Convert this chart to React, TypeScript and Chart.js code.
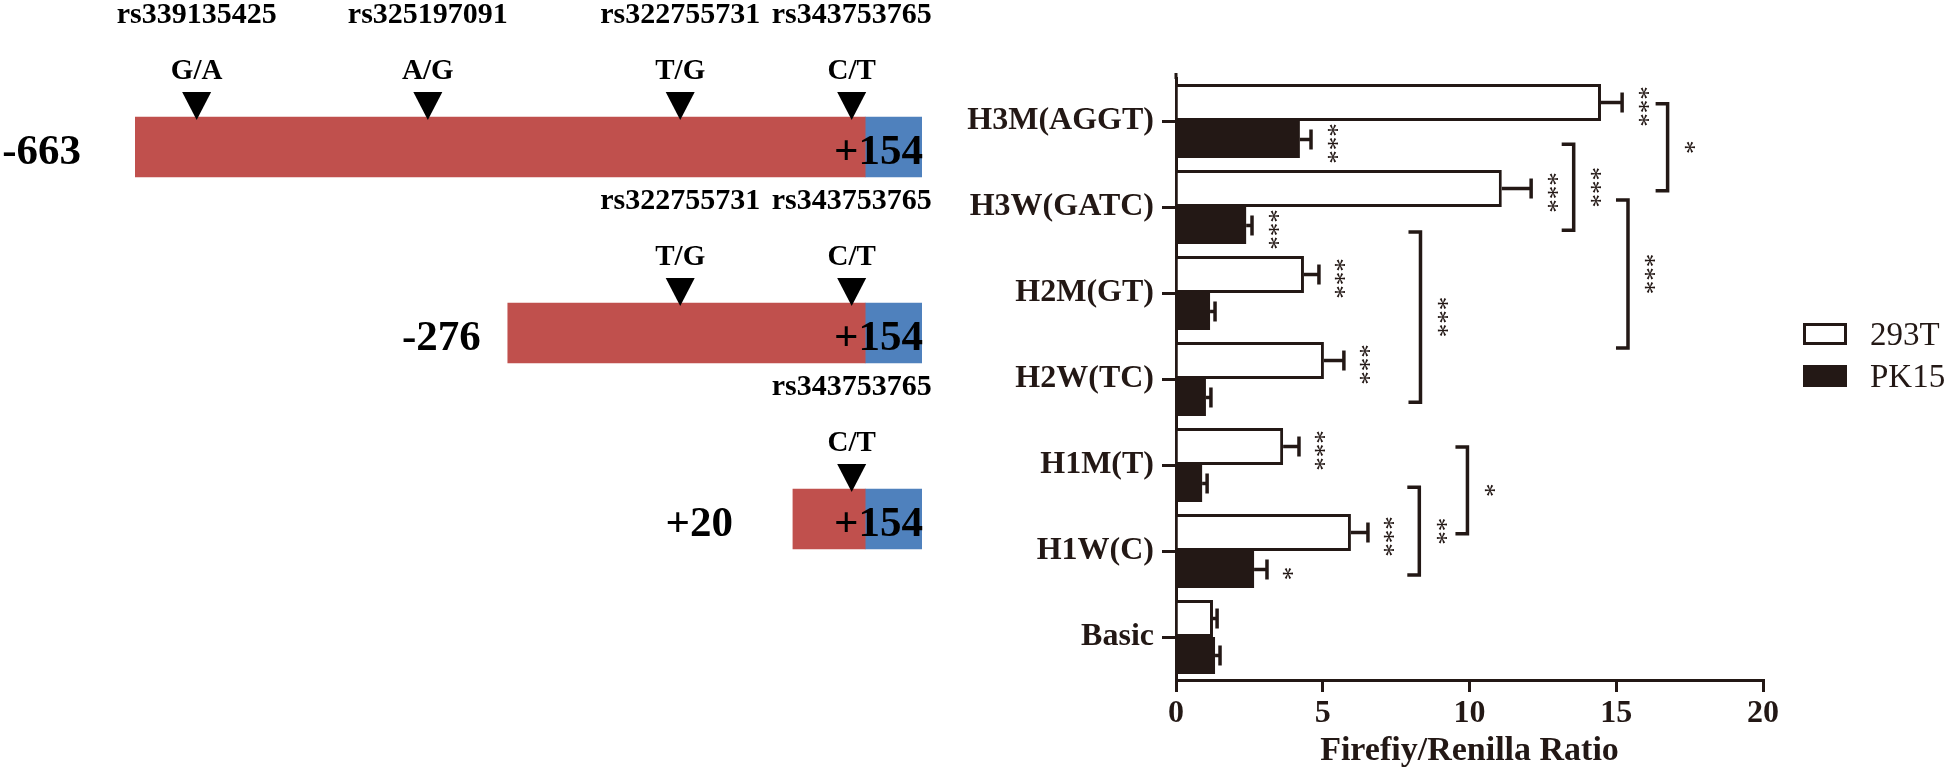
import React, { useEffect, useRef } from 'react';
import { Chart, registerables } from 'chart.js';

Chart.register(...registerables);

// ---------- schematic data ----------
const constructLabels = ['-663', '-276', '+20'];
const constructStarts = [-663, -276, 20];
const constructEnd = 154;
const exonStart = 95;
const snpIds = ['rs339135425', 'rs325197091', 'rs322755731', 'rs343753765'];
const snpAlleles = ['G/A', 'A/G', 'T/G', 'C/T'];
const snpPositions = [-599, -359, -97, 81];

// ---------- luciferase data ----------
const categories = ['H3M(AGGT)', 'H3W(GATC)', 'H2M(GT)', 'H2W(TC)', 'H1M(T)', 'H1W(C)', 'Basic'];
const values293T = [14.48, 11.1, 4.36, 5.04, 3.65, 5.96, 1.26];
const errors293T = [0.72, 1.0, 0.51, 0.68, 0.54, 0.58, 0.14];
const valuesPK15 = [4.22, 2.39, 1.16, 1.02, 0.89, 2.66, 1.33];
const errorsPK15 = [0.38, 0.2, 0.17, 0.17, 0.17, 0.44, 0.17];
const sig293T = ['***', '***', '***', '***', '***', '***', ''];
const sigPK15 = ['***', '***', '', '', '', '*', ''];
const xTicks = [0, 5, 10, 15, 20];
// significance brackets: x in ratio units, ends in category-index units
const bracketX = [16.75, 13.55, 15.4, 8.33, 8.29, 9.93];
const bracketFrom = [-0.2, 0.27, 0.92, 1.29, 4.26, 3.79];
const bracketTo = [0.81, 1.27, 2.64, 3.27, 5.28, 4.8];
const bracketLabels = ['*', '***', '***', '***', '**', '*'];

// ---------- styles / layout ----------
const RED = '#C0504D';
const BLUE = '#4F81BD';
const DARK = '#231815';
const SERIF = '"Liberation Serif", "Times New Roman", serif';
const labelGaps = [54, 27, 60];

function drawStars(ctx: CanvasRenderingContext2D, text: string, cx: number, cy: number) {
  ctx.save();
  ctx.font = `27px ${SERIF}`;
  ctx.translate(cx, cy);
  ctx.rotate(Math.PI / 2);
  const m = ctx.measureText(text);
  const off = (m.actualBoundingBoxAscent - m.actualBoundingBoxDescent) / 2;
  ctx.textAlign = 'center';
  ctx.textBaseline = 'alphabetic';
  ctx.fillText(text, 0, off);
  ctx.restore();
}

const schematicPlugin = {
  id: 'schematic',
  afterDatasetsDraw(chart: any) {
    const ctx = chart.ctx as CanvasRenderingContext2D;
    const xs = chart.scales.x;
    const meta = chart.getDatasetMeta(0);
    ctx.save();
    ctx.fillStyle = '#000';
    constructStarts.forEach((start, i) => {
      const el = meta.data[i];
      const cy = el.y;
      const top = cy - el.height / 2;
      ctx.font = `bold 43px ${SERIF}`;
      ctx.textAlign = 'right';
      ctx.textBaseline = 'alphabetic';
      ctx.fillText(constructLabels[i], xs.getPixelForValue(start) - labelGaps[i], cy + 17);
      ctx.fillText('+' + constructEnd, xs.getPixelForValue(constructEnd) + 1, cy + 17);
      snpPositions.forEach((p, k) => {
        if (p < start) return;
        const x = xs.getPixelForValue(p);
        ctx.beginPath();
        ctx.moveTo(x - 14.5, top - 25);
        ctx.lineTo(x + 14.5, top - 25);
        ctx.lineTo(x, top + 3);
        ctx.closePath();
        ctx.fill();
        ctx.textAlign = 'center';
        ctx.font = `bold 29px ${SERIF}`;
        ctx.fillText(snpAlleles[k], x, top - 38);
        ctx.font = `bold 30px ${SERIF}`;
        ctx.fillText(snpIds[k], x, top - 94);
      });
    });
    ctx.restore();
  },
};

const annotPlugin = {
  id: 'annot',
  afterDatasetsDraw(chart: any) {
    const ctx = chart.ctx as CanvasRenderingContext2D;
    const xs = chart.scales.x;
    const ys = chart.scales.y;
    const ca = chart.chartArea;
    const errs = [errors293T, errorsPK15];
    const sigs = [sig293T, sigPK15];
    ctx.save();
    ctx.strokeStyle = DARK;
    ctx.fillStyle = DARK;
    ctx.lineWidth = 3;
    // small extension of the value axis line above the first bar
    ctx.beginPath();
    ctx.moveTo(ca.left, ca.top - 5);
    ctx.lineTo(ca.left, ca.top + 1);
    ctx.stroke();
    ctx.lineWidth = 3.5;
    chart.data.datasets.forEach((ds: any, di: number) => {
      const meta = chart.getDatasetMeta(di);
      meta.data.forEach((el: any, j: number) => {
        const v = ds.data[j];
        const e = errs[di][j];
        const xe = xs.getPixelForValue(v + e);
        const y = el.y;
        ctx.beginPath();
        ctx.moveTo(el.x, y);
        ctx.lineTo(xe, y);
        ctx.stroke();
        ctx.beginPath();
        ctx.moveTo(xe, y - 10);
        ctx.lineTo(xe, y + 10);
        ctx.stroke();
        if (sigs[di][j]) drawStars(ctx, sigs[di][j], xe + 21, y + 4);
      });
    });
    const y0 = ys.getPixelForValue(0);
    const step = ys.getPixelForValue(1) - y0;
    bracketX.forEach((bx, i) => {
      const x = xs.getPixelForValue(bx);
      const ya = y0 + bracketFrom[i] * step;
      const yb = y0 + bracketTo[i] * step;
      ctx.beginPath();
      ctx.moveTo(x - 12, ya);
      ctx.lineTo(x, ya);
      ctx.lineTo(x, yb);
      ctx.lineTo(x - 12, yb);
      ctx.stroke();
      drawStars(ctx, bracketLabels[i], x + 22, (ya + yb) / 2);
    });
    // legend
    const lx = 863;
    const lys = [323, 365];
    chart.data.datasets.forEach((ds: any, di: number) => {
      const ly = lys[di];
      ctx.fillStyle = ds.backgroundColor;
      ctx.fillRect(lx, ly, 44, 22);
      ctx.lineWidth = 3;
      ctx.strokeStyle = DARK;
      ctx.strokeRect(lx + 1.5, ly + 1.5, 41, 19);
      ctx.fillStyle = DARK;
      ctx.font = `33px ${SERIF}`;
      ctx.textAlign = 'left';
      ctx.textBaseline = 'alphabetic';
      ctx.fillText(ds.label, lx + 67, ly + 22);
    });
    ctx.restore();
  },
};

export default function App() {
  const leftRef = useRef<HTMLCanvasElement>(null);
  const rightRef = useRef<HTMLCanvasElement>(null);

  useEffect(() => {
    const left = new Chart(leftRef.current as HTMLCanvasElement, {
      type: 'bar',
      data: {
        labels: constructLabels,
        datasets: [
          {
            label: 'promoter',
            data: constructStarts.map((s) => [s, exonStart]) as any,
            backgroundColor: RED,
            grouped: false,
            barThickness: 60,
            borderWidth: 0,
          } as any,
          {
            label: 'exon',
            data: constructStarts.map(() => [exonStart, constructEnd]) as any,
            backgroundColor: BLUE,
            grouped: false,
            barThickness: 60,
            borderWidth: 0,
          } as any,
        ],
      },
      options: {
        indexAxis: 'y',
        responsive: false,
        animation: false,
        devicePixelRatio: 1,
        layout: { padding: { left: 135, right: 18, top: 54, bottom: 18 } },
        scales: {
          x: { type: 'linear', min: -663, max: 154, display: false },
          y: { display: false },
        },
        plugins: { legend: { display: false }, tooltip: { enabled: false } },
      },
      plugins: [schematicPlugin],
    });

    const right = new Chart(rightRef.current as HTMLCanvasElement, {
      type: 'bar',
      data: {
        labels: categories,
        datasets: [
          {
            label: '293T',
            data: values293T,
            backgroundColor: '#ffffff',
            borderColor: DARK,
            borderWidth: 3,
            categoryPercentage: 0.86,
            barPercentage: 1,
          },
          {
            label: 'PK15',
            data: valuesPK15,
            backgroundColor: DARK,
            borderColor: DARK,
            borderWidth: 0,
            categoryPercentage: 0.86,
            barPercentage: 1,
          },
        ],
      },
      options: {
        indexAxis: 'y',
        responsive: false,
        animation: false,
        devicePixelRatio: 1,
        layout: { padding: { left: 0, right: 183, top: 78, bottom: 0 } },
        scales: {
          x: {
            type: 'linear',
            min: 0,
            max: 20,
            afterBuildTicks: (scale: any) => {
              scale.ticks = xTicks.map((v) => ({ value: v }));
            },
            afterFit: (scale: any) => {
              scale.height = 92;
            },
            border: { color: DARK, width: 3 },
            grid: { drawOnChartArea: false, tickLength: 12, lineWidth: 3, color: DARK },
            ticks: {
              padding: 3,
              color: DARK,
              font: { family: SERIF, size: 32, weight: 'bold' },
            },
            title: {
              display: true,
              text: 'Firefiy/Renilla Ratio',
              color: DARK,
              padding: { top: 0, bottom: 0 },
              font: { family: SERIF, size: 34, weight: 'bold' },
            },
          },
          y: {
            afterFit: (scale: any) => {
              scale.width = 236;
            },
            border: { color: DARK, width: 3 },
            grid: { drawOnChartArea: false, offset: false, tickLength: 14, lineWidth: 3, color: DARK },
            ticks: {
              padding: 8,
              color: DARK,
              font: { family: SERIF, size: 32, weight: 'bold' },
            },
          },
        },
        plugins: { legend: { display: false }, tooltip: { enabled: false } },
      },
      plugins: [annotPlugin],
    });

    return () => {
      left.destroy();
      right.destroy();
    };
  }, []);

  return (
    <div style={{ position: 'absolute', left: 0, top: 0, width: 1946, height: 772, background: '#fff' }}>
      <canvas ref={leftRef} width={940} height={630} style={{ position: 'absolute', left: 0, top: 0 }} />
      <canvas ref={rightRef} width={1006} height={772} style={{ position: 'absolute', left: 940, top: 0 }} />
    </div>
  );
}
